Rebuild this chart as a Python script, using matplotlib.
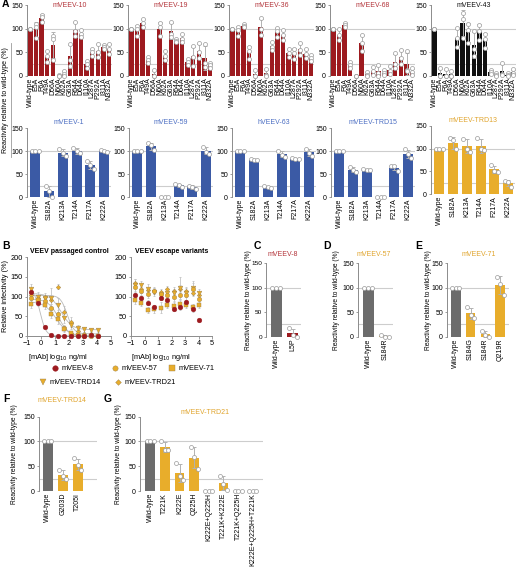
import numpy as np
import matplotlib
matplotlib.use('Agg')
import matplotlib.pyplot as plt
from matplotlib.lines import Line2D

plt.rcParams['font.family'] = ['Liberation Sans', 'DejaVu Sans']

# ---------------- DATA ----------------
mut_a1 = ["Wild-type", "E5A", "F6A", "T49A", "D56A", "N60A", "K62A", "G63A",
          "R64A", "D64A", "I110A", "L287A", "P292A", "I311A", "N332A"]
mveev10 = [[100,100,100],[110,105,81],[130,125,115],[52,42,30],[85,78,35],[2,0,1],[10,4,0],
           [68,35,22],[115,95,85],[98,90,82],[32,25,18],[58,50,42],[68,50,40],[66,62,58],[68,58,46]]
mveev19 = [[100,100,100],[106,100,85],[120,113,103],[41,34,28],[12,0,0],[112,105,84],[53,42,35],
           [114,90,82],[78,75,72],[90,78,72],[37,30,23],[63,40,22],[70,50,38],[67,28,20],[27,23,18]]
mveev36 = [[100,100,100],[105,98,85],[110,106,103],[62,52,36],[12,0,0],[122,100,88],[14,2,0],
           [72,62,56],[101,95,82],[97,86,76],[57,48,40],[58,48,36],[70,56,45],[57,46,38],[45,38,31]]
mveev68 = [[100,100,100],[99,88,77],[112,108,104],[30,23,16],[1,0,0],[86,70,54],[9,3,0],
           [20,10,3],[23,6,1],[12,6,3],[21,10,5],[48,25,17],[56,38,26],[52,12,11],[16,8,3]]
mveev43 = [[100,100,100],[17,1,0],[14,0,0],[10,0,0],[101,80,62],[134,120,81],[110,97,70],
           [96,57,43],[108,96,76],[90,79,59],[13,9,5],[6,2,1],[27,5,3],[6,2,1],[14,7,3]]
titles_a1 = ["mVEEV-10", "mVEEV-19", "mVEEV-36", "mVEEV-68", "mVEEV-43"]

mut_a2 = ["Wild-type", "S182A", "K213A", "T214A", "F217A", "K222A"]
mveev1 = [[100,100,100],[23,14,0],[104,96,89],[107,100,95],[78,70,62],[103,101,98]]
mveev59 = [[100,100,100],[117,113,102],[0,0,0],[28,26,22],[25,22,18],[109,99,94]]
hveev63 = [[100,100,100],[83,81,80],[23,21,19],[101,92,88],[85,83,82],[105,97,90]]
trd15 = [[100,100,100],[65,58,55],[61,60,59],[0,0,0],[68,67,57],[104,93,85]]
trd13 = [[100,100,100],[123,118,98],[122,100,93],[124,98,96],[64,52,49],[29,26,17]]
titles_a2 = ["mVEEV-1", "mVEEV-59", "hVEEV-63", "mVEEV-TRD15", "mVEEV-TRD13"]

# Panel B: neutralization, log10 ng/ml
b_conc = [-0.7, -0.23, 0.25, 0.72, 1.2, 1.67, 2.15, 2.62, 3.1, 3.57, 4.05]
b_names = ["mVEEV-8", "mVEEV-57", "mVEEV-71", "mVEEV-TRD14", "mVEEV-TRD21"]
ctrl_vals = {
    "mVEEV-8":     [111, 83, 23, 2, 1, 0, 1, 0, 1, 3, 0],
    "mVEEV-57":    [95, 92, 88, 70, 55, 20, 5, 2, 1, 1, 0],
    "mVEEV-71":    [80, 90, 78, 55, 43, 17, 7, 2, 1, 1, 0],
    "mVEEV-TRD14": [118, 100, 95, 97, 78, 45, 28, 21, 17, 16, 16],
    "mVEEV-TRD21": [105, 95, 100, 92, 125, 60, 35, 12, 6, 4, 3],
}
ctrl_err = {
    "mVEEV-8":     [8, 6, 4, 2, 1, 1, 1, 1, 1, 2, 1],
    "mVEEV-57":    [14, 10, 8, 12, 10, 8, 4, 2, 2, 1, 1],
    "mVEEV-71":    [10, 8, 9, 10, 12, 8, 5, 2, 1, 1, 1],
    "mVEEV-TRD14": [14, 12, 10, 25, 18, 12, 10, 8, 6, 5, 5],
    "mVEEV-TRD21": [12, 10, 10, 12, 6, 15, 12, 6, 4, 3, 2],
}
esc_vals = {
    "mVEEV-8":     [104, 96, 84, 73, 96, 92, 69, 73, 86, 68, 40],
    "mVEEV-57":    [123, 115, 107, 115, 107, 103, 98, 103, 104, 119, 94],
    "mVEEV-71":    [90, 83, 65, 69, 71, 78, 75, 82, 78, 73, 78],
    "mVEEV-TRD14": [130, 128, 118, 112, 103, 110, 108, 122, 110, 122, 108],
    "mVEEV-TRD21": [134, 120, 117, 114, 112, 118, 115, 120, 115, 110, 104],
}
esc_err = {
    "mVEEV-8":     [6, 6, 6, 6, 6, 6, 6, 6, 6, 6, 4],
    "mVEEV-57":    [12, 10, 10, 8, 8, 10, 10, 10, 12, 14, 10],
    "mVEEV-71":    [8, 8, 8, 10, 14, 8, 10, 10, 8, 8, 8],
    "mVEEV-TRD14": [15, 12, 14, 10, 12, 10, 10, 28, 12, 16, 10],
    "mVEEV-TRD21": [10, 10, 8, 8, 8, 8, 8, 8, 8, 8, 8],
}

mut_c = ["Wild-type", "L5P"]
mveev8 = [[100,100,100],[17,4,0]]
mut_d = ["Wild-type", "S184R"]
mveev57 = [[100,100,100],[3,0,0]]
mut_e = ["Wild-type", "S184G", "S184R", "Q219R"]
mveev71 = [[100,100,100],[60,44,38],[12,4,0],[122,108,85]]
mut_f = ["Wild-type", "G203D", "T205I"]
trd14 = [[100,100,100],[43,30,24],[66,53,43]]
mut_g = ["Wild-type", "T221K", "K222E", "Q225H", "K222E+Q225H", "T221K+K222E",
         "T221K+Q225H", "K222E+Q225H+T221K"]
trd21 = [[100,100,100],[100,83,82],[57,30,22],[88,68,45],[0,0,0],[31,14,3],[0,0,0],[0,0,0]]

# ---------------- STYLE ----------------
RED = '#9d1a1f'; RED_T = '#b3343a'
BLUE = '#3b5aa5'; BLUE_T = '#4c6fc3'
GOLD = '#e8ad2b'; GOLD_T = '#e0a42c'
BLACK = '#111111'
GRAY = '#6c6c6c'
SPINE = '#8c8c8c'
REF = '#cdcdcd'
FS = 5.0

W, H = 520, 569
fig = plt.figure(figsize=(W / 100, H / 100), dpi=100)


def ax_px(x0, y_top, w, y_bot):
    return fig.add_axes([x0 / W, 1 - y_bot / H, w / W, (y_bot - y_top) / H])


def style_bar_ax(ax, ytick_fs=FS):
    for s in ['top', 'right', 'bottom']:
        ax.spines[s].set_visible(False)
    ax.spines['left'].set_color(SPINE)
    ax.spines['left'].set_linewidth(0.7)
    ax.set_ylim(0, 150)
    ax.set_yticks([0, 50, 100, 150])
    ax.tick_params(axis='y', length=1.8, width=0.6, color=SPINE, pad=1.0, labelsize=ytick_fs)
    ax.tick_params(axis='x', length=0, pad=1.2, labelsize=FS)
    ax.axhline(100, color=REF, lw=0.8, zorder=1)
    ax.axhline(25, color=REF, lw=0.8, zorder=1)
    ax.patch.set_alpha(0)


def bar_panel(ax, labels, reps, colors, width, spread, xlim, ytick_fs=FS):
    reps = np.array(reps, float)
    mean = reps.mean(axis=1)
    sd = reps.std(axis=1, ddof=1)
    x = np.arange(len(labels))
    ax.bar(x, mean, width=width, color=colors, zorder=2)
    ax.errorbar(x, mean, yerr=sd, fmt='none', ecolor='#b2b2b2', elinewidth=0.7,
                capsize=1.2, capthick=0.7, zorder=3)
    offs = np.array([-spread, 0.0, spread])
    for i in range(len(labels)):
        ax.plot(x[i] + offs, reps[i], 'o', ms=2.9, mfc='white', mec='#9a9a9a',
                mew=0.5, zorder=4, clip_on=False)
    ax.set_xticks(x)
    ax.set_xticklabels(labels, rotation=90)
    ax.set_xlim(*xlim)
    style_bar_ax(ax, ytick_fs)


# ---------------- PANEL A, row 1 ----------------
a1_data = [mveev10, mveev19, mveev36, mveev68, mveev43]
a1_cols = [RED, RED, RED, RED, BLACK]
a1_tcols = [RED_T, RED_T, RED_T, RED_T, '#111111']
a1_x0 = [27, 128, 229, 330, 431]
for i in range(5):
    ax = ax_px(a1_x0[i], 5.3, 85, 76)
    bar_panel(ax, mut_a1, a1_data[i], a1_cols[i], 0.78, 0.0, (-0.6, 14.5))
    ax.text(0.5, 1.0, titles_a1[i], transform=ax.transAxes, ha='center', va='center',
            fontsize=FS, color=a1_tcols[i])

# ---------------- PANEL A, row 2 ----------------
a2_data = [mveev1, mveev59, hveev63, trd15, trd13]
a2_cols = [BLUE, BLUE, BLUE, BLUE, GOLD]
a2_tcols = [BLUE_T, BLUE_T, BLUE_T, BLUE_T, GOLD_T]
a2_x0 = [27, 129, 232, 331, 431]
for i in range(5):
    if i == 4:
        ax = ax_px(a2_x0[i], 125.7, 84, 194.3)
    else:
        ax = ax_px(a2_x0[i], 128.3, 84, 197)
    bar_panel(ax, mut_a2, a2_data[i], a2_cols[i], 0.72, 0.24, (-0.6, 5.5))
    ax.text(0.5, 1.08, titles_a2[i], transform=ax.transAxes, ha='center', va='center',
            fontsize=FS, color=a2_tcols[i])

fig.text(5.5 / W, 1 - 100 / H, "Reactivity relative to wild-type (%)", rotation=90,
         ha='center', va='center', fontsize=FS)
fig.add_artist(Line2D([10.5 / W, 10.5 / W], [1 - 43 / H, 1 - 157 / H], color='#9a9a9a', lw=0.6))

# ---------------- PANEL B ----------------
markers = {"mVEEV-8": ('o', RED, 3.4), "mVEEV-57": ('o', GOLD, 3.2), "mVEEV-71": ('s', GOLD, 3.2),
           "mVEEV-TRD14": ('v', GOLD, 3.4), "mVEEV-TRD21": ('D', GOLD, 2.3)}


def logistic_fit(x, y):
    x = np.asarray(x, float); y = np.asarray(y, float)
    best = None
    for c in np.linspace(-1, 4, 201):
        for h in np.linspace(0.3, 4, 75):
            s = 1.0 / (1.0 + 10 ** ((x - c) * h))
            A = np.column_stack([s, 1 - s])
            coef, *_ = np.linalg.lstsq(A, y, rcond=None)
            r = np.sum((A @ coef - y) ** 2)
            if best is None or r < best[0]:
                best = (r, c, h, coef)
    return best[1:]


def style_b(ax, title):
    for s in ['top', 'right']:
        ax.spines[s].set_visible(False)
    for s in ['left', 'bottom']:
        ax.spines[s].set_color(SPINE)
        ax.spines[s].set_linewidth(0.7)
    ax.set_xlim(-1, 5)
    ax.set_ylim(0, 200)
    ax.set_xticks(range(-1, 6))
    ax.set_yticks([0, 50, 100, 150, 200])
    ax.tick_params(length=1.8, width=0.6, color=SPINE, pad=1.2, labelsize=5.3)
    ax.set_xlabel(r"[mAb] log$_{10}$ ng/ml", fontsize=5.3, labelpad=1.5)
    ax.xaxis.set_label_coords(0.37, -0.2)
    ax.set_title(title, fontsize=5.0, fontweight='bold', pad=3)
    ax.patch.set_alpha(0)


axL = ax_px(27, 257, 84, 336)
axR = ax_px(131, 257, 81, 336)
order = ["mVEEV-TRD21", "mVEEV-TRD14", "mVEEV-57", "mVEEV-71", "mVEEV-8"]
for name in order:
    m, c, ms = markers[name]
    axL.errorbar(b_conc, ctrl_vals[name], yerr=ctrl_err[name], fmt='none', ecolor='#c4c4c4',
                 elinewidth=0.6, capsize=1.0, capthick=0.6, zorder=2)
    axL.plot(b_conc, ctrl_vals[name], m, color=c, ms=ms, mec='#9a8050' if c == GOLD else c,
             mew=0.3, zorder=4, clip_on=False)
    cc, hh, coef = logistic_fit(b_conc, ctrl_vals[name])
    xf = np.linspace(min(b_conc), max(b_conc), 200)
    sf = 1.0 / (1.0 + 10 ** ((xf - cc) * hh))
    axL.plot(xf, coef[0] * sf + coef[1] * (1 - sf), color='#b8b8b8', lw=0.6, zorder=3)
    axR.errorbar(b_conc, esc_vals[name], yerr=esc_err[name], fmt='none', ecolor='#c4c4c4',
                 elinewidth=0.6, capsize=1.0, capthick=0.6, zorder=2)
    axR.plot(b_conc, esc_vals[name], m, color=c, ms=ms, mec='#9a8050' if c == GOLD else c,
             mew=0.3, zorder=4, clip_on=False)
style_b(axL, "VEEV passaged control")
style_b(axR, "VEEV escape variants")
axL.set_ylabel("Relative infectivity (%)", fontsize=5.3, labelpad=1)

# legend (manual)
leg_pos = [("mVEEV-8", 55, 368), ("mVEEV-57", 115, 368), ("mVEEV-71", 172, 368),
           ("mVEEV-TRD14", 43, 382), ("mVEEV-TRD21", 118, 382)]
for name, lx, ly in leg_pos:
    m, c, ms = markers[name]
    fig.add_artist(Line2D([lx / W], [1 - ly / H], marker=m, color=c, ms=ms + 0.6, ls='none',
                          mec='#9a8050' if c == GOLD else c, mew=0.3))
    fig.text((lx + 7) / W, 1 - ly / H, name, fontsize=5.3, va='center', ha='left')

# ---------------- PANELS C, D, E ----------------
def small_panel(x0, y_top, w, y_bot, labels, reps, color, title, tx, ty, ylab_x, xlim,
                spread=0.24, ytick_fs=FS):
    ax = ax_px(x0, y_top, w, y_bot)
    cols = [GRAY] + [color] * (len(labels) - 1)
    bar_panel(ax, labels, reps, cols, 0.66, spread, xlim, ytick_fs)
    fig.text(tx / W, 1 - ty / H, title, ha='center', va='center', fontsize=FS,
             color=GOLD_T if color == GOLD else RED_T)
    fig.text(ylab_x / W, 1 - (y_top + y_bot) / 2 / H, "Reactivity relative to wild-type (%)",
             rotation=90, ha='center', va='center', fontsize=4.8)
    return ax

small_panel(266, 263, 35, 336.7, mut_c, mveev8, RED, "mVEEV-8", 283, 255, 249, (-0.6, 1.5),
            ytick_fs=4.6)
small_panel(358, 263, 35, 336.7, mut_d, mveev57, GOLD, "mVEEV-57", 374, 255, 337, (-0.6, 1.5))
small_panel(447, 263, 62, 336.7, mut_e, mveev71, GOLD, "mVEEV-71", 479, 255, 428, (-0.6, 3.6))

# ---------------- PANELS F, G ----------------
small_panel(39, 416.7, 58, 491, mut_f, trd14, GOLD, "mVEEV-TRD14", 62, 400.7, 15, (-0.6, 3.3))
small_panel(140, 416.7, 123, 491, mut_g, trd21, GOLD, "mVEEV-TRD21", 205, 412.7, 118, (-0.7, 7.7))

# ---------------- PANEL LETTERS ----------------
for letter, lx, ly in [("A", 2, 4), ("B", 2, 246), ("C", 254, 246), ("D", 323, 246),
                       ("E", 415, 246), ("F", 3, 399), ("G", 104, 399)]:
    fig.text(lx / W, 1 - ly / H, letter, fontsize=7.5, fontweight='bold', ha='left', va='center')

fig.savefig("out.png", dpi=100)
